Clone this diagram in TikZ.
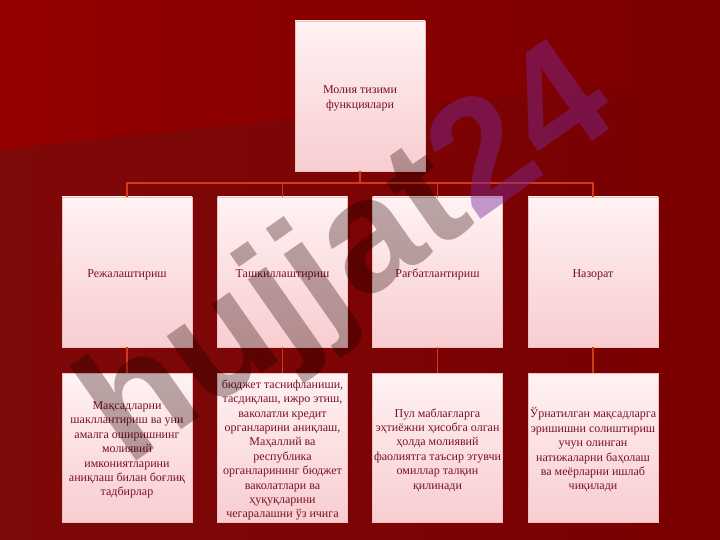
\documentclass[tikz,border=0pt]{standalone}
\usepackage{fontspec}
\setmainfont{Liberation Serif}
\newfontfamily\wmfont{Liberation Sans}
\definecolor{bgbase}{HTML}{7A0000}
\definecolor{bglight}{HTML}{950000}
\definecolor{boxtop}{HTML}{FFF2F3}
\definecolor{boxbot}{HTML}{F8CDD0}
\definecolor{boxline}{HTML}{EDBFC2}
\definecolor{txtred}{HTML}{7A1026}
\definecolor{connred}{HTML}{D23A1A}
\definecolor{wmgrey}{HTML}{BAAEAE}
\definecolor{wmpurple}{HTML}{7C2898}
\tikzset{
  orgbox/.style={rectangle, draw=boxline, line width=0.4pt, top color=boxtop, bottom color=boxbot,
    minimum width=130pt, minimum height=150pt, inner sep=0pt},
  boxtext/.style={inner sep=0pt, align=center, text=txtred, yshift=-2.5pt,
    font=\fontsize{12}{14.4}\selectfont},
  conn/.style={draw=connred, line width=1.3pt},
  wmtext/.style={inner sep=0pt, rotate=35, font=\wmfont\bfseries\fontsize{160}{160}\selectfont}
}
\begin{document}
\begin{tikzpicture}[x=1pt,y=-1pt]
\useasboundingbox (0,0) rectangle (720,540);
% background
\fill[bgbase] (0,0) rectangle (720,540);
\shade[left color=bglight, right color=bgbase] (0,0) -- (720,0) -- (720,70) .. controls (450,110) and (200,125) .. (0,150) -- cycle;
\shade[left color=bgbase!92!white, right color=bgbase] (0,150) .. controls (200,125) and (450,110) .. (720,70) -- (720,540) -- (0,540) -- cycle;
\fill[bgbase, opacity=0.55] (0,150) .. controls (200,125) and (450,110) .. (720,70) -- (720,540) -- (0,540) -- cycle;

% boxes
\node[orgbox] (top) at (360,96) {};
\node[orgbox] (b1) at (127,272) {};
\node[orgbox] (b2) at (282.5,272) {};
\node[orgbox] (b3) at (437.5,272) {};
\node[orgbox] (b4) at (593,272) {};
\node[orgbox, minimum height=149pt] (c1) at (127,447.5) {};
\node[orgbox, minimum height=149pt] (c2) at (282.5,447.5) {};
\node[orgbox, minimum height=149pt] (c3) at (437.5,447.5) {};
\node[orgbox, minimum height=149pt] (c4) at (593,447.5) {};

% texts
\node[boxtext] (topt) at (top.center) {Молия тизими\\функциялари};
\node[boxtext] (b1t) at (b1.center) {Режалаштириш};
\node[boxtext] (b2t) at (b2.center) {Ташкиллаштириш};
\node[boxtext] (b3t) at (b3.center) {Рағбатлантириш};
\node[boxtext] (b4t) at (b4.center) {Назорат};
\node[boxtext] (c1t) at (c1.center) {Мақсадларни\\шакллантириш ва уни\\амалга оширишнинг\\молиявий\\имкониятларини\\аниқлаш билан боғлиқ\\тадбирлар};
\node[boxtext] (c2t) at (c2.center) {бюджет таснифланиши,\\тасдиқлаш, ижро этиш,\\ваколатли кредит\\органларини аниқлаш,\\Маҳаллий ва\\республика\\органларининг бюджет\\ваколатлари ва\\ҳуқуқларини\\чегаралашни ўз ичига};
\node[boxtext] (c3t) at (c3.center) {Пул маблағларга\\эҳтиёжни ҳисобга олган\\ҳолда молиявий\\фаолиятга таъсир этувчи\\омиллар талқин\\қилинади};
\node[boxtext] (c4t) at (c4.center) {Ўрнатилган мақсадларга\\эришишни солиштириш\\учун олинган\\натижаларни баҳолаш\\ва меёрларни ишлаб\\чиқилади};

% connectors
\coordinate (bus) at (360,183);
\draw[conn] (top.south) -- (bus);
\draw[conn] (b1.north) |- (bus) -| (b4.north);
\draw[conn] (b2.north) -- (b2.north |- bus);
\draw[conn] (b3.north) -- (b3.north |- bus);
\draw[conn] (b1.south) -- (c1.north);
\draw[conn] (b2.south) -- (c2.north);
\draw[conn] (b3.south) -- (c3.north);
\draw[conn] (b4.south) -- (c4.north);

% watermark
\begin{scope}[blend mode=multiply]
\node[wmtext, anchor=base west, text=wmgrey] (wmA) at (127,468) {hujjat};
\end{scope}
\node[wmtext, anchor=base west, text=wmpurple, opacity=0.45] (wmB) at (wmA.base east) {24};
\end{tikzpicture}
\end{document}
